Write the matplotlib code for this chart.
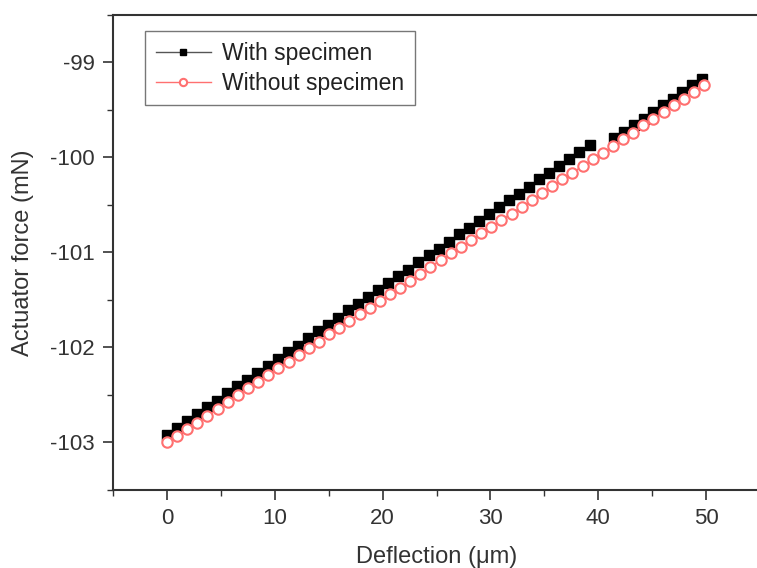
import numpy as np
import matplotlib
matplotlib.use("Agg")
import matplotlib.pyplot as plt
from matplotlib.ticker import MultipleLocator

plt.rcParams['font.family'] = ['Liberation Sans', 'DejaVu Sans']
plt.rcParams['axes.unicode_minus'] = False

# With specimen (two segments, gap around 40 µm)
with_x1 = [0.00, 0.93, 1.87, 2.80, 3.73, 4.67, 5.60, 6.53, 7.46, 8.40, 9.33, 10.26,
           11.20, 12.13, 13.06, 14.00, 14.93, 15.86, 16.79, 17.73, 18.66, 19.59, 20.53,
           21.46, 22.39, 23.33, 24.26, 25.19, 26.12, 27.06, 27.99, 28.92, 29.86, 30.79,
           31.72, 32.66, 33.59, 34.52, 35.45, 36.39, 37.32, 38.25, 39.19]
with_y1 = [-102.92, -102.85, -102.77, -102.70, -102.63, -102.56, -102.48, -102.41,
           -102.34, -102.27, -102.19, -102.12, -102.05, -101.98, -101.90, -101.83,
           -101.76, -101.69, -101.61, -101.54, -101.47, -101.40, -101.32, -101.25,
           -101.18, -101.10, -101.03, -100.96, -100.89, -100.81, -100.74, -100.67,
           -100.60, -100.52, -100.45, -100.38, -100.31, -100.23, -100.16, -100.09,
           -100.02, -99.94, -99.87]
with_x2 = [41.50, 42.40, 43.30, 44.20, 45.10, 46.00, 46.90, 47.80, 48.70, 49.60]
with_y2 = [-99.80, -99.73, -99.66, -99.59, -99.52, -99.45, -99.38, -99.31, -99.24, -99.17]

# Without specimen
without_x = [0.00, 0.94, 1.88, 2.82, 3.76, 4.70, 5.64, 6.58, 7.52, 8.46, 9.40, 10.34,
             11.28, 12.22, 13.16, 14.10, 15.04, 15.98, 16.92, 17.86, 18.80, 19.74, 20.68,
             21.62, 22.56, 23.50, 24.44, 25.38, 26.32, 27.26, 28.20, 29.14, 30.08, 31.02,
             31.96, 32.90, 33.84, 34.78, 35.72, 36.66, 37.60, 38.54, 39.48, 40.42, 41.36,
             42.30, 43.24, 44.18, 45.12, 46.06, 47.00, 47.94, 48.88, 49.82]
without_y = [-103.00, -102.93, -102.86, -102.79, -102.72, -102.65, -102.57, -102.50,
             -102.43, -102.36, -102.29, -102.22, -102.15, -102.08, -102.01, -101.94,
             -101.86, -101.79, -101.72, -101.65, -101.58, -101.51, -101.44, -101.37,
             -101.30, -101.23, -101.15, -101.08, -101.01, -100.94, -100.87, -100.80,
             -100.73, -100.66, -100.59, -100.52, -100.45, -100.37, -100.30, -100.23,
             -100.16, -100.09, -100.02, -99.95, -99.88, -99.81, -99.74, -99.66, -99.59,
             -99.52, -99.45, -99.38, -99.31, -99.24]

x_ticks = [0, 10, 20, 30, 40, 50]
y_ticks = [-103, -102, -101, -100, -99]

fig = plt.figure(figsize=(7.57, 5.68), dpi=100)
ax = fig.add_axes([113/757, 1-490/568, (760-113)/757, (490-15)/568])

red = '#ff7070'
ax.plot(with_x1, with_y1, '-', color='#555555', lw=1.0, marker='s', ms=7,
        mfc='black', mec='black', label='With specimen', zorder=3)
ax.plot(with_x2, with_y2, '-', color='#555555', lw=1.0, marker='s', ms=7,
        mfc='black', mec='black', zorder=3)
ax.plot(without_x, without_y, '-', color=red, lw=1.0, marker='o', ms=7.5,
        mfc='white', mec=red, mew=1.5, label='Without specimen', zorder=4)

ax.set_xlim(-5, 55)
ax.set_ylim(-103.5, -98.5)
ax.set_xticks(x_ticks)
ax.set_yticks(y_ticks)
ax.xaxis.set_minor_locator(MultipleLocator(5))
ax.yaxis.set_minor_locator(MultipleLocator(0.5))
ax.tick_params(axis='both', which='major', direction='out', length=7, width=1.2,
               labelsize=16, colors='#333333', labelcolor='#333333', pad=6)
ax.tick_params(axis='both', which='minor', direction='out', length=4, width=1.0,
               colors='#333333')
for s in ax.spines.values():
    s.set_linewidth(1.5)
    s.set_color('#333333')

ax.set_xlabel('Deflection (μm)', fontsize=17, color='#333333', labelpad=12)
ax.set_ylabel('Actuator force (mN)', fontsize=17, color='#333333', labelpad=12)

leg = ax.legend(loc='upper left', bbox_to_anchor=(0.043, 0.975), fontsize=16.5,
                frameon=True, fancybox=False, edgecolor='#555555', handlelength=2.4,
                borderpad=0.45, labelspacing=0.3, handletextpad=0.5, borderaxespad=0.2,
                markerscale=0.7)
leg.get_frame().set_linewidth(1.0)
for t in leg.get_texts():
    t.set_color('#222222')

fig.savefig('out.png', dpi=100)
